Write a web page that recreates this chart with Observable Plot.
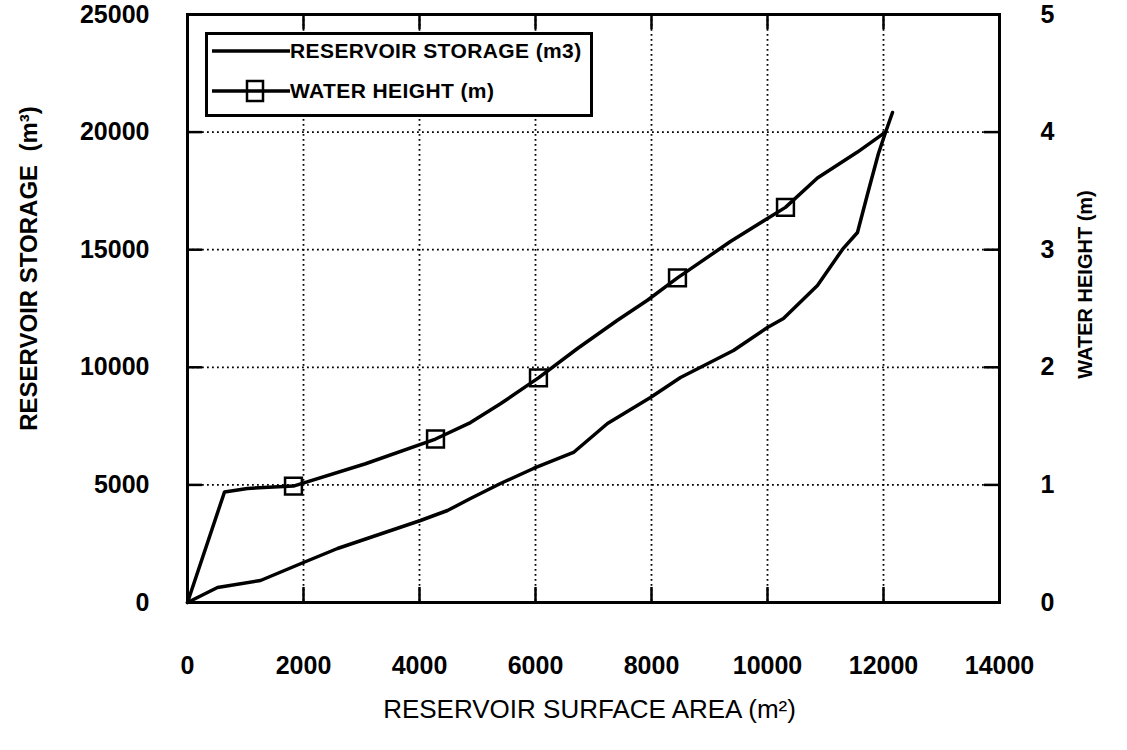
<!DOCTYPE html>
<html><head><meta charset="utf-8">
<script src="https://cdn.jsdelivr.net/npm/d3@7"></script>
<script src="https://cdn.jsdelivr.net/npm/@observablehq/plot@0.6"></script>
<style>
html,body{margin:0;padding:0;background:#fff;}
#wrap{position:relative;width:1127px;height:750px;overflow:hidden;}
#legend{position:absolute;left:205px;top:32px;height:85px;box-sizing:border-box;border:3px solid #000;background:#fff;
  padding:0 8px 0 4px;display:flex;flex-direction:column;gap:8px;
  font-family:"Liberation Sans",Arial,Helvetica,sans-serif;font-weight:bold;font-size:21px;letter-spacing:0.4px;color:#000;}
#legend .row{display:flex;align-items:center;height:32px;white-space:nowrap;}
#legend svg{display:block;flex:none;}
</style></head><body><div id="wrap"></div>
<script>
// ---- data ----
const areaStorage = [0, 517, 1259, 2000, 2586, 4017, 4483, 4879, 5396, 5965, 6655, 7241, 7982, 8500, 9413, 9999, 10275, 10861, 11292, 11551, 11741, 11913, 12034, 12155];
const storage     = [0, 638, 935, 1701, 2296, 3487, 3912, 4422, 5060, 5698, 6378, 7611, 8717, 9567, 10715, 11693, 12076, 13479, 15010, 15732, 17518, 19091, 19985, 20835];
const areaHeight  = [0, 638, 1034, 1827, 3069, 4276, 4879, 5396, 6051, 6724, 7413, 7930, 8448, 9361, 10310, 10861, 11551, 12034];
const waterHeight = [0, 0.94, 0.97, 0.99, 1.18, 1.39, 1.53, 1.69, 1.91, 2.16, 2.40, 2.57, 2.76, 3.07, 3.36, 3.61, 3.83, 4.00];
const markerArea   = [1827, 4276, 6051, 8448, 10310];
const markerHeight = [0.99, 1.39, 1.91, 2.76, 3.36];
const xTicks = [0, 2000, 4000, 6000, 8000, 10000, 12000, 14000];
const storageTicks = [0, 5000, 10000, 15000, 20000, 25000];
const storagePerMetre = 5000; // right axis: 1 m per 5000 m3 on the left axis
const legendLabels = ["RESERVOIR STORAGE (m3)", "WATER HEIGHT (m)"];
const xTitle = "RESERVOIR SURFACE AREA (m²)";
const yTitle = "RESERVOIR STORAGE  (m³)";
const y2Title = "WATER HEIGHT (m)";

// ---- build ----
const storageData = areaStorage.map((x, i) => ({x, y: storage[i]}));
const heightData = areaHeight.map((x, i) => ({x, y: waterHeight[i] * storagePerMetre}));
const markerData = markerArea.map((x, i) => ({x, y: markerHeight[i] * storagePerMetre}));

const font = '"Liberation Sans", Arial, Helvetica, sans-serif';
const ink = "#000";
const grid = {stroke: ink, strokeOpacity: 1, strokeWidth: 1.8, strokeDasharray: "1.8,3.2"};
const tick = {stroke: ink, strokeWidth: 2.5};
const axisText = {tickSize: 0, fontSize: 25, fontWeight: "bold", label: null, tickFormat: d => String(d)};

const chart = Plot.plot({
  width: 1127, height: 750,
  marginTop: 14, marginBottom: 148, marginLeft: 187, marginRight: 128,
  style: {fontFamily: font, background: "#fff", color: ink, overflow: "visible"},
  x: {domain: [0, 14000]},
  y: {domain: [0, 25000]},
  marks: [
    Plot.gridX(xTicks, grid),
    Plot.gridY(storageTicks, grid),
    Plot.ruleX(xTicks, {y1: 0, y2: 640, ...tick}),
    Plot.ruleX(xTicks, {y1: 25000, y2: 24360, ...tick}),
    Plot.ruleY(storageTicks, {x1: 0, x2: 260, ...tick}),
    Plot.ruleY(storageTicks, {x1: 14000, x2: 13740, ...tick}),
    Plot.frame({stroke: ink, strokeWidth: 3}),
    Plot.line(storageData, {x: "x", y: "y", stroke: ink, strokeWidth: 3.5}),
    Plot.line(heightData, {x: "x", y: "y", stroke: ink, strokeWidth: 3.5}),
    Plot.dot(markerData, {x: "x", y: "y", symbol: "square", r: 9.5, fill: "none", stroke: ink, strokeWidth: 2.5}),
    Plot.axisX(xTicks, {anchor: "bottom", tickPadding: 54, ...axisText}),
    Plot.axisY(storageTicks, {anchor: "left", tickPadding: 38, ...axisText}),
    Plot.axisY(storageTicks, {anchor: "right", tickPadding: 41, ...axisText, tickFormat: d => String(d / storagePerMetre)}),
    Plot.text([xTitle], {frameAnchor: "bottom", dy: 115, dx: -4, fontSize: 26, fill: ink}),
    Plot.text([yTitle], {frameAnchor: "left", textAnchor: "middle", dx: -158, dy: -40, rotate: -90, fontSize: 24, fontWeight: "bold", fill: ink}),
    Plot.text([y2Title], {frameAnchor: "right", textAnchor: "middle", dx: 86, dy: -24, rotate: -90, fontSize: 20, fontWeight: "bold", fill: ink})
  ]
});
const wrap = document.getElementById("wrap");
wrap.appendChild(chart);

// legend (inside the plot frame, top-left)
const legend = document.createElement("div");
legend.id = "legend";
const samples = [
  '<svg width="78" height="32"><line x1="0" x2="78" y1="16" y2="16" stroke="#000" stroke-width="3.5"/></svg>',
  '<svg width="78" height="32"><line x1="0" x2="78" y1="16" y2="16" stroke="#000" stroke-width="3.5"/><rect x="35" y="6" width="16" height="20" fill="none" stroke="#000" stroke-width="2.5"/></svg>'
];
legendLabels.forEach((label, i) => {
  const row = document.createElement("div");
  row.className = "row";
  row.innerHTML = samples[i];
  const span = document.createElement("span");
  span.textContent = label;
  row.appendChild(span);
  legend.appendChild(row);
});
wrap.appendChild(legend);
</script></body></html>
